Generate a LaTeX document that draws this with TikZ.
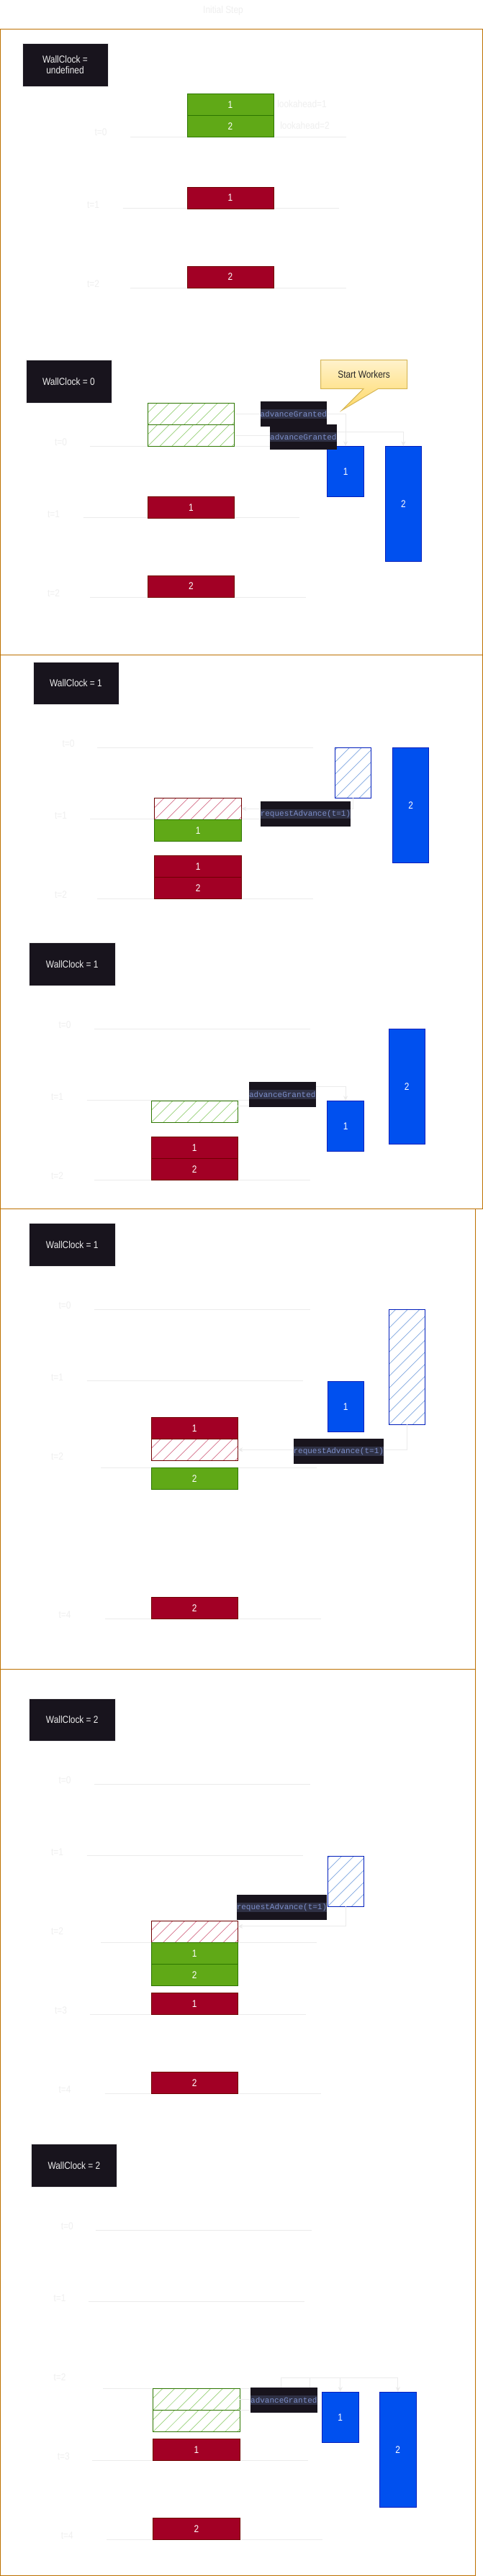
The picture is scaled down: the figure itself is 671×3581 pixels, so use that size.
\documentclass[tikz,border=0pt]{standalone}
\usepackage{fontspec}
\setmainfont{Liberation Sans}
\newfontfamily\narrow[FakeStretch=0.85]{Liberation Sans}
\newfontfamily\codefont{Liberation Mono}
\usetikzlibrary{arrows.meta,calc}
\definecolor{frameC}{HTML}{BD7000}
\definecolor{darkC}{HTML}{18141D}
\definecolor{wcline}{HTML}{EEEEEE}
\definecolor{gfill}{HTML}{60A917}
\definecolor{gline}{HTML}{2D7600}
\definecolor{ghat}{HTML}{97D077}
\definecolor{rfill}{HTML}{A20025}
\definecolor{rline}{HTML}{6F0000}
\definecolor{rhat}{HTML}{D46E88}
\definecolor{bfill}{HTML}{0050EF}
\definecolor{bline}{HTML}{001DBC}
\definecolor{bhat}{HTML}{7EA6E0}
\definecolor{faintC}{HTML}{EFEFEF}
\definecolor{lineC}{HTML}{EBEBEB}
\definecolor{codeC}{HTML}{7D8FCB}
\definecolor{stripC}{HTML}{2F3145}
\definecolor{calTop}{HTML}{FFF2CC}
\definecolor{calBot}{HTML}{FFD966}
\definecolor{calLine}{HTML}{D6B656}
\tikzset{
  base/.style={rectangle, inner sep=0pt, outer sep=0pt, line width=1pt, text=white,
    font=\narrow\fontsize{14}{16}\selectfont},
  gbox/.style={base, fill=gfill, draw=gline},
  rbox/.style={base, fill=rfill, draw=rline},
  bbox/.style={base, fill=bfill, draw=bline},
  hatch/.style={path picture={\foreach \k in {-10,...,8}{\draw[#1, line width=0.7pt]
      ([xshift={\k*16.7pt}]path picture bounding box.south west) -- ++(250pt,250pt);}}},
  ghatch/.style={base, fill=white, draw=gline, hatch=ghat},
  rhatch/.style={base, fill=white, draw=rline, hatch=rhat},
  bhatch/.style={base, fill=white, draw=bline, hatch=bhat},
  wc/.style={rectangle, fill=darkC, draw=wcline, line width=0.6pt, text=wcline,
    minimum width=119.4pt, minimum height=59.3pt, inner sep=0pt, align=center,
    font=\narrow\fontsize{14}{15}\selectfont},
  faint/.style={inner sep=0pt, text=faintC, font=\narrow\fontsize{14}{16}\selectfont},
  tline/.style={draw=lineC, line width=1pt},
  frame/.style={draw=frameC, line width=1pt},
  conn/.style={draw=lineC, line width=1pt, -{Stealth[length=7pt,width=6pt]}},
  codelab/.style={rectangle, fill=darkC, inner sep=0pt, minimum height=34.7pt,
    text=codeC, font=\codefont\fontsize{11}{13}\selectfont,
    path picture={\fill[stripC] ([yshift=-6.2pt]path picture bounding box.west)
      rectangle ([yshift=6.2pt]path picture bounding box.east);}},
  shortlab/.style={codelab, minimum width=92.4pt},
  longlab/.style={codelab, minimum width=125pt},
}
\newcommand\bx[7]{\node[#2, minimum width={(#5-#3)*1pt}, minimum height={(#6-#4)*1pt}] (#1) at ({(#3+#5)/2},{(#4+#6)/2}) {#7};}
\newcommand\tl[6]{\draw[tline] (#2,#3) -- ++(300,0); \node[faint] (#1) at (#4,#5) {#6};}
\begin{document}
\begin{tikzpicture}[x=1pt,y=-1pt]
\useasboundingbox (0,0) rectangle (671,3581);
\fill[white] (0,0) rectangle (671,3581);
% frames
\draw[frame] (0.5,40.3) rectangle (670,910);
\draw[frame] (0.5,910) rectangle (670,1680);
\draw[frame] (0.5,1680) rectangle (660,2320);
\draw[frame] (0.5,2320) rectangle (660,3580.5);
\node[faint] (title) at (310,15) {Initial Step};
% ---------- A
\tl{tA0}{180.6}{190.3}{140}{184}{t=0}
\tl{tA1}{170.7}{289.3}{129.5}{284.3}{t=1}
\tl{tA2}{180.6}{400}{129.5}{394.3}{t=2}
\node[wc] (wcA) at (90.5,90.4) {WallClock =\\undefined};
\bx{gA1}{gbox}{260}{130.3}{380}{160.3}{1}
\bx{gA2}{gbox}{260}{160.3}{380}{190.3}{2}
\node[faint] (laA1) at (419.5,144.7) {lookahead=1};
\node[faint] (laA2) at (423.5,174.7) {lookahead=2};
\bx{rA1}{rbox}{260}{260}{380}{290}{1}
\bx{rA2}{rbox}{260}{370}{380}{400}{2}
% ---------- B
\tl{tB0}{125.4}{620.3}{84.5}{614.7}{t=0}
\tl{tB1}{115.5}{719}{74.5}{714.3}{t=1}
\tl{tB2}{125.4}{830}{74.5}{824.3}{t=2}
\node[wc] (wcB) at (95.5,530.2) {WallClock = 0};
\shade[top color=calTop, bottom color=calBot, draw=calLine, line width=1pt]
  (445.5,500.3) -- (565.7,500.3) -- (565.7,540.3) -- (525.5,540.3) -- (475,570.3)
  -- (505,540.3) -- (445.5,540.3) -- cycle;
\node[inner sep=0pt, text={black!85}, font=\narrow\fontsize{14}{16}\selectfont] (sw) at (505.6,520) {Start Workers};
\bx{gB1}{ghatch}{205.4}{560.3}{325.6}{590.3}{}
\bx{gB2}{ghatch}{205.4}{590.3}{325.6}{620.3}{}
\bx{bB1}{bbox}{454.9}{620.3}{505.3}{690.3}{1}
\bx{bB2}{bbox}{535.3}{620.3}{585.4}{780.3}{2}
\bx{rB1}{rbox}{205.4}{690.3}{325.6}{720.3}{1}
\bx{rB2}{rbox}{205.4}{800}{325.6}{830}{2}
\draw[conn] (gB1.east) -| (bB1.north);
\draw[conn] (gB2.east) -- ++(130,0) |- ($(bB2.north)+(0,-20)$) -- (bB2.north);
\node[shortlab] (agB1) at (407.8,575.3) {advanceGranted};
\node[shortlab] (agB2) at (421.4,607.5) {advanceGranted};
% ---------- C
\tl{tC0}{135.2}{1039}{95}{1033.3}{t=0}
\tl{tC1}{125.4}{1138.3}{84.5}{1133.3}{t=1}
\tl{tC2}{135.2}{1249.3}{84.5}{1243.3}{t=2}
\node[wc] (wcC) at (105.5,949.5) {WallClock = 1};
\bx{bC1}{bhatch}{465.6}{1039.3}{515.6}{1109.3}{}
\bx{bC2}{bbox}{545.6}{1039.3}{595.6}{1199.3}{2}
\bx{rC0}{rhatch}{214.8}{1109.3}{335.5}{1139.3}{}
\bx{gC1}{gbox}{214.8}{1139.3}{335.5}{1169.3}{1}
\bx{rC1}{rbox}{214.8}{1189.3}{335.5}{1219.3}{1}
\bx{rC2}{rbox}{214.8}{1219.3}{335.5}{1249.3}{2}
\draw[conn] (bC1.south) |- (rC0.east);
\node[longlab] (raC) at (424.5,1131.3) {requestAdvance(t=1)};
% ---------- D
\tl{tD0}{130.5}{1430}{90}{1424.3}{t=0}
\tl{tD1}{120.7}{1529.3}{79.5}{1524.3}{t=1}
\tl{tD2}{130.5}{1640.3}{79.5}{1634.3}{t=2}
\node[wc] (wcD) at (100.3,1340.3) {WallClock = 1};
\bx{gD0}{ghatch}{210}{1530.3}{330.3}{1560.3}{}
\bx{bD1}{bbox}{454.9}{1530.3}{505.3}{1600.3}{1}
\bx{bD2}{bbox}{540}{1430}{590.5}{1590.3}{2}
\bx{rD1}{rbox}{210}{1580.3}{330.3}{1610.3}{1}
\bx{rD2}{rbox}{210}{1610.3}{330.3}{1640.3}{2}
\draw[conn] ($(gD0.north east)!0.25!(gD0.south east)$) -- ++(62,0) |- ($(bD1.north)+(0,-20)$) -- (bD1.north);
\node[shortlab] (agD) at (392.3,1521.3) {advanceGranted};
% ---------- E
\tl{tE0}{130.5}{1820.3}{90}{1814.7}{t=0}
\tl{tE1}{120.7}{1919}{79.5}{1914.3}{t=1}
\tl{tE2}{140.4}{2040}{79.5}{2024.3}{t=2}
\tl{tE4}{145.5}{2250.3}{90}{2244.3}{t=4}
\node[wc] (wcE) at (100.3,1730.2) {WallClock = 1};
\bx{bE2}{bhatch}{540}{1820.3}{590.5}{1980.3}{}
\bx{bE1}{bbox}{455}{1920.3}{505.3}{1990.3}{1}
\bx{rE1}{rbox}{210}{1970.3}{330.3}{2000.3}{1}
\bx{rE0}{rhatch}{210}{2000.3}{330.3}{2030.3}{}
\bx{gE2}{gbox}{210}{2040.3}{330.3}{2070.3}{2}
\bx{rE2}{rbox}{210}{2220}{330.3}{2250.3}{2}
\draw[conn] (bE2.south) |- (rE0.east);
\node[longlab] (raE) at (470.3,2017.3) {requestAdvance(t=1)};
% ---------- F
\tl{tF0}{130.5}{2480.3}{90}{2474.3}{t=0}
\tl{tF1}{120.7}{2579.3}{79.5}{2574.3}{t=1}
\tl{tF2}{140.4}{2700}{79.5}{2684.3}{t=2}
\tl{tF3}{125.4}{2800}{84.5}{2794.3}{t=3}
\tl{tF4}{145.5}{2910.3}{90}{2904.3}{t=4}
\node[wc] (wcF) at (100.3,2390.5) {WallClock = 2};
\bx{bF1}{bhatch}{455}{2580.3}{505.3}{2650.3}{}
\bx{rF0}{rhatch}{210}{2670.3}{330.3}{2700.3}{}
\bx{gF1}{gbox}{210}{2700.3}{330.3}{2730.3}{1}
\bx{gF2}{gbox}{210}{2730.3}{330.3}{2760.3}{2}
\bx{rF1}{rbox}{210}{2770.3}{330.3}{2800.3}{1}
\bx{rF2}{rbox}{210}{2880.3}{330.3}{2910.3}{2}
\draw[conn] (bF1.south) |- ($(rF0.north east)!0.25!(rF0.south east)$);
\node[longlab] (raF) at (391.5,2651.3) {requestAdvance(t=1)};
% ---------- G
\tl{tG0}{133}{3100}{93.3}{3094.3}{t=0}
\tl{tG1}{122.8}{3199}{83}{3194.3}{t=1}
\tl{tG2}{143}{3320.3}{83}{3305}{t=2}
\tl{tG3}{128}{3420.3}{88.2}{3414.3}{t=3}
\tl{tG4}{148}{3530.3}{93.3}{3524.3}{t=4}
\node[wc] (wcG) at (102.9,3010.3) {WallClock = 2};
\bx{gG1}{ghatch}{212.7}{3320.3}{333}{3350.3}{}
\bx{gG2}{ghatch}{212.7}{3350.3}{333}{3380.3}{}
\bx{bG1}{bbox}{447.6}{3325}{498}{3395.3}{1}
\bx{bG2}{bbox}{527.6}{3325}{578}{3485.3}{2}
\bx{rG1}{rbox}{212.7}{3390}{333}{3420.3}{1}
\bx{rG2}{rbox}{212.7}{3500}{333}{3530.3}{2}
\draw[conn] (gG1.east) -- ++(57.2,0) |- ($(bG1.north)+(0,-19.7)$) -- (bG1.north);
\draw[conn] (gG2.north east) -- ++(97,0) |- ($(bG2.north)+(0,-19.7)$) -- (bG2.north);
\node[shortlab] (agG) at (394.4,3336.3) {advanceGranted};
\end{tikzpicture}
\end{document}
